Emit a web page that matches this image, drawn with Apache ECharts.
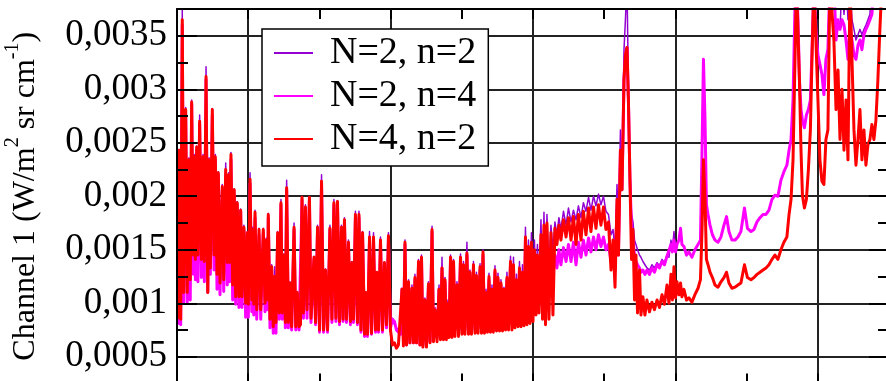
<!DOCTYPE html>
<html><head><meta charset="utf-8">
<script src="https://cdn.jsdelivr.net/npm/echarts@6/dist/echarts.min.js"></script>
<style>html,body{margin:0;padding:0;background:#fff}#c{width:886px;height:381px}</style>
</head><body><div id="c"></div>
<script>
// x positions (arbitrary spectral units, grid lines every 100)
const wavenumber = [
50.5,51.6,52.6,53.7,54.7,56.1,57.2,58.4,59.3,60.3,
61.4,62.1,62.9,63.8,64.7,65.9,67.1,68.3,69.2,70.4,
71.6,72.5,73.4,74.8,76.0,76.9,78.1,79.0,80.2,81.8,
82.8,84.2,85.3,86.3,87.0,87.9,89.1,90.2,91.2,92.3,
93.5,94.7,95.6,97.0,98.2,99.4,100.1,101.3,102.5,103.2,
103.9,104.8,106.0,107.6,108.8,110.6,111.8,112.7,113.7,114.1,
115.3,116.5,117.6,118.6,119.5,120.7,121.8,123.0,123.9,125.1,
126.1,127.0,128.2,129.3,130.5,132.2,133.4,134.5,135.7,136.7,
137.8,138.8,140.2,141.3,143.0,144.1,146.2,147.3,148.7,150.1,
151.5,152.9,154.3,155.7,157.4,158.8,160.2,161.6,162.7,164.1,
165.5,166.6,167.6,169.0,170.4,171.8,172.9,173.9,175.3,176.7,
177.8,179.2,180.3,181.7,182.7,183.8,185.2,186.6,188.0,189.4,
190.4,191.5,192.9,194.3,195.7,197.1,198.5,199.9,201.3,202.7,
204.1,205.5,206.9,208.0,209.0,210.1,211.2,212.6,213.6,215.0,
216.1,217.1,218.2,219.6,220.6,221.7,222.7,224.1,225.2,226.6,
227.7,229.1,230.1,231.2,232.6,234.0,235.0,236.1,237.1,238.2,
239.2,240.3,241.0,242.1,243.1,244.2,245.2,246.6,247.7,249.1,
250.1,251.2,252.2,253.6,254.7,255.7,256.8,258.2,259.3,260.3,
261.4,262.8,263.8,264.9,265.9,267.0,268.0,269.1,270.1,271.2,
272.2,273.3,274.4,275.4,276.5,277.5,278.6,279.6,280.7,281.7,
282.8,284.2,285.2,286.3,287.3,288.4,289.5,290.5,291.6,292.6,
293.7,294.7,295.8,296.8,297.9,298.9,300.0,301.0,302.1,303.1,
304.2,305.6,306.7,307.7,308.8,309.8,311.2,312.6,314.0,315.4,
316.8,318.2,319.6,321.4,323.2,324.9,326.7,328.4,330.2,331.9,
333.7,335.4,337.2,339.0,340.7,342.5,344.2,346.0,347.7,349.5,
351.2,353.0,354.8,356.2,357.6,359.0,360.0,361.4,362.5,363.9,
364.9,366.0,367.0,368.1,369.2,370.2,371.3,372.3,373.4,374.8,
375.8,377.2,378.6,380.0,381.8,383.5,385.3,387.1,388.8,390.6,
392.3,394.1,395.5,396.9,397.9,399.0,400.1,401.1,402.5,403.6,
404.6,406.0,407.8,409.5,411.6,413.7,415.9,417.6,418.7,419.7,
420.8,421.8,422.9,424.3,426.0,427.8,429.9,432.0,434.1,435.9,
437.6,439.7,441.8,443.9,446.0,448.5,450.6,453.1,455.2,457.3,
459.4,461.5,463.6,465.7,467.8,469.9,472.0,474.1,476.2,478.3,
479.8,481.2,482.6,484.0,485.0,486.1,487.1,488.2,489.2,490.6,
492.0,493.4,494.8,495.9,497.3,498.7,500.1,501.5,502.9,504.3,
505.7,507.1,508.5,509.9,511.3,512.8,514.2,515.6,517.0,518.4,
519.8,521.2,522.6,524.0,525.4,526.8,528.2,529.6,531.0,532.4,
533.8,535.2,536.6,538.0,539.4,540.8,542.2,543.6,545.1
];

// Channel 1 radiance, N=2, n=2 (W/m2 sr cm-1)
const radN2n2 = [
0.00085,0.00243,0.00085,0.00374,0.00110,0.00283,0.00110,0.00236,0.00122,0.00290,
0.00145,0.00239,0.00141,0.00247,0.00145,0.00276,0.00141,0.00239,0.00139,0.00321,
0.00110,0.00236,0.00133,0.00282,0.00145,0.00239,0.00127,0.00223,0.00119,0.00211,
0.00122,0.00231,0.00138,0.00222,0.00138,0.00241,0.00117,0.00207,0.00106,0.00195,
0.00106,0.00188,0.00106,0.00173,0.00100,0.00167,0.00099,0.00222,0.00103,0.00171,
0.00099,0.00187,0.00094,0.00170,0.00094,0.00170,0.00100,0.00161,0.00103,0.00184,
0.00085,0.00136,0.00078,0.00134,0.00082,0.00167,0.00091,0.00197,0.00091,0.00146,
0.00082,0.00215,0.00082,0.00120,0.00078,0.00175,0.00078,0.00111,0.00078,0.00080,
0.00200,0.00091,0.00192,0.00094,0.00200,0.00086,0.00144,0.00082,0.00173,0.00075,
0.00220,0.00075,0.00132,0.00075,0.00173,0.00085,0.00197,0.00086,0.00196,0.00083,
0.00173,0.00085,0.00180,0.00085,0.00159,0.00083,0.00139,0.00085,0.00186,0.00082,
0.00186,0.00075,0.00167,0.00071,0.00110,0.00071,0.00167,0.00072,0.00166,0.00075,
0.00129,0.00075,0.00162,0.00075,0.00138,0.00080,0.00166,0.00080,0.00086,0.00080,
0.00077,0.00075,0.00072,0.00114,0.00066,0.00159,0.00061,0.00122,0.00063,0.00117,
0.00063,0.00127,0.00063,0.00141,0.00061,0.00145,0.00061,0.00105,0.00061,0.00120,
0.00066,0.00172,0.00066,0.00096,0.00068,0.00117,0.00071,0.00143,0.00071,0.00124,
0.00071,0.00103,0.00071,0.00145,0.00073,0.00141,0.00075,0.00120,0.00075,0.00146,
0.00075,0.00139,0.00075,0.00157,0.00075,0.00131,0.00077,0.00139,0.00077,0.00129,
0.00079,0.00137,0.00079,0.00150,0.00079,0.00113,0.00080,0.00128,0.00080,0.00117,
0.00080,0.00135,0.00080,0.00128,0.00080,0.00122,0.00080,0.00115,0.00081,0.00129,
0.00081,0.00144,0.00083,0.00143,0.00085,0.00127,0.00086,0.00139,0.00086,0.00136,
0.00086,0.00171,0.00089,0.00159,0.00094,0.00166,0.00103,0.00159,0.00113,0.00155,
0.00122,0.00178,0.00113,0.00185,0.00117,0.00183,0.00131,0.00173,0.00150,0.00176,
0.00164,0.00180,0.00169,0.00186,0.00173,0.00189,0.00176,0.00187,0.00178,0.00191,
0.00180,0.00194,0.00186,0.00199,0.00187,0.00200,0.00191,0.00202,0.00192,0.00200,
0.00186,0.00183,0.00164,0.00169,0.00150,0.00211,0.00169,0.00262,0.00215,0.00337,
0.00365,0.00400,0.00300,0.00225,0.00183,0.00176,0.00159,0.00155,0.00150,0.00145,
0.00143,0.00139,0.00136,0.00133,0.00131,0.00136,0.00133,0.00138,0.00135,0.00141,
0.00138,0.00145,0.00143,0.00159,0.00150,0.00167,0.00150,0.00155,0.00159,0.00170,
0.00155,0.00153,0.00145,0.00148,0.00143,0.00150,0.00155,0.00159,0.00243,0.00328,
0.00271,0.00192,0.00183,0.00173,0.00164,0.00159,0.00157,0.00162,0.00173,0.00181,
0.00167,0.00159,0.00159,0.00162,0.00167,0.00189,0.00170,0.00167,0.00169,0.00176,
0.00180,0.00183,0.00183,0.00187,0.00197,0.00201,0.00200,0.00215,0.00223,0.00229,
0.00243,0.00253,0.00290,0.00379,0.00400,0.00365,0.00309,0.00281,0.00271,0.00264,
0.00276,0.00281,0.00290,0.00335,0.00400,0.00356,0.00332,0.00323,0.00314,0.00295,
0.00328,0.00337,0.00400,0.00400,0.00400,0.00346,0.00365,0.00356,0.00400,0.00370,
0.00400,0.00365,0.00400,0.00365,0.00356,0.00346,0.00351,0.00356,0.00351,0.00356,
0.00360,0.00365,0.00370,0.00400,0.00400,0.00400,0.00400,0.00400,0.00400
];

// Channel 1 radiance, N=2, n=4
const radN2n4 = [
0.00080,0.00243,0.00080,0.00360,0.00101,0.00276,0.00101,0.00229,0.00103,0.00286,
0.00127,0.00234,0.00122,0.00243,0.00120,0.00267,0.00124,0.00234,0.00120,0.00309,
0.00110,0.00229,0.00127,0.00276,0.00131,0.00234,0.00113,0.00220,0.00108,0.00206,
0.00111,0.00220,0.00117,0.00215,0.00120,0.00234,0.00103,0.00201,0.00099,0.00192,
0.00096,0.00186,0.00096,0.00169,0.00087,0.00164,0.00087,0.00212,0.00092,0.00167,
0.00089,0.00180,0.00085,0.00164,0.00085,0.00166,0.00092,0.00157,0.00094,0.00180,
0.00077,0.00131,0.00072,0.00122,0.00072,0.00163,0.00085,0.00192,0.00085,0.00143,
0.00077,0.00206,0.00077,0.00117,0.00075,0.00169,0.00075,0.00108,0.00075,0.00075,
0.00197,0.00086,0.00187,0.00086,0.00197,0.00082,0.00141,0.00080,0.00169,0.00073,
0.00211,0.00073,0.00129,0.00073,0.00169,0.00082,0.00192,0.00083,0.00192,0.00080,
0.00169,0.00083,0.00176,0.00082,0.00155,0.00080,0.00136,0.00082,0.00180,0.00080,
0.00180,0.00073,0.00164,0.00069,0.00108,0.00069,0.00159,0.00071,0.00159,0.00073,
0.00127,0.00073,0.00157,0.00073,0.00136,0.00077,0.00161,0.00077,0.00085,0.00083,
0.00075,0.00075,0.00071,0.00113,0.00066,0.00155,0.00061,0.00117,0.00063,0.00113,
0.00063,0.00122,0.00063,0.00136,0.00061,0.00141,0.00061,0.00103,0.00061,0.00117,
0.00064,0.00167,0.00066,0.00094,0.00068,0.00113,0.00071,0.00133,0.00071,0.00120,
0.00071,0.00099,0.00071,0.00141,0.00073,0.00136,0.00075,0.00117,0.00075,0.00141,
0.00075,0.00133,0.00075,0.00145,0.00075,0.00127,0.00075,0.00133,0.00075,0.00124,
0.00077,0.00131,0.00077,0.00145,0.00077,0.00108,0.00078,0.00122,0.00078,0.00113,
0.00078,0.00129,0.00078,0.00122,0.00078,0.00117,0.00078,0.00111,0.00079,0.00122,
0.00079,0.00136,0.00080,0.00133,0.00082,0.00120,0.00083,0.00131,0.00083,0.00127,
0.00085,0.00159,0.00086,0.00150,0.00089,0.00155,0.00096,0.00148,0.00103,0.00143,
0.00113,0.00150,0.00103,0.00155,0.00113,0.00145,0.00127,0.00145,0.00131,0.00145,
0.00133,0.00150,0.00136,0.00152,0.00139,0.00155,0.00139,0.00157,0.00136,0.00157,
0.00143,0.00159,0.00145,0.00161,0.00148,0.00162,0.00150,0.00164,0.00153,0.00162,
0.00150,0.00155,0.00139,0.00145,0.00131,0.00187,0.00145,0.00243,0.00206,0.00309,
0.00332,0.00339,0.00290,0.00215,0.00169,0.00159,0.00145,0.00139,0.00136,0.00133,
0.00129,0.00131,0.00127,0.00131,0.00127,0.00133,0.00129,0.00136,0.00133,0.00139,
0.00136,0.00144,0.00143,0.00155,0.00148,0.00159,0.00148,0.00155,0.00159,0.00170,
0.00155,0.00153,0.00145,0.00148,0.00143,0.00150,0.00155,0.00159,0.00243,0.00328,
0.00271,0.00192,0.00183,0.00173,0.00164,0.00159,0.00157,0.00162,0.00173,0.00181,
0.00167,0.00159,0.00159,0.00162,0.00167,0.00189,0.00170,0.00167,0.00169,0.00176,
0.00180,0.00183,0.00183,0.00187,0.00197,0.00201,0.00200,0.00215,0.00223,0.00229,
0.00243,0.00253,0.00290,0.00379,0.00400,0.00365,0.00309,0.00281,0.00271,0.00264,
0.00276,0.00281,0.00290,0.00335,0.00400,0.00356,0.00332,0.00323,0.00314,0.00295,
0.00328,0.00337,0.00400,0.00400,0.00400,0.00346,0.00365,0.00356,0.00365,0.00360,
0.00346,0.00328,0.00356,0.00346,0.00332,0.00328,0.00341,0.00346,0.00337,0.00351,
0.00356,0.00360,0.00365,0.00370,0.00400,0.00400,0.00400,0.00400,0.00400
];

// Channel 1 radiance, N=4, n=2
const radN4n2 = [
0.00085,0.00243,0.00085,0.00365,0.00110,0.00281,0.00110,0.00234,0.00122,0.00288,
0.00145,0.00237,0.00141,0.00246,0.00145,0.00270,0.00141,0.00237,0.00139,0.00312,
0.00110,0.00234,0.00133,0.00281,0.00145,0.00237,0.00127,0.00222,0.00119,0.00209,
0.00122,0.00225,0.00138,0.00220,0.00138,0.00239,0.00117,0.00206,0.00106,0.00194,
0.00106,0.00187,0.00106,0.00171,0.00100,0.00166,0.00099,0.00216,0.00103,0.00169,
0.00099,0.00185,0.00094,0.00169,0.00094,0.00169,0.00100,0.00159,0.00103,0.00183,
0.00085,0.00134,0.00078,0.00125,0.00082,0.00166,0.00091,0.00194,0.00091,0.00145,
0.00082,0.00208,0.00082,0.00119,0.00078,0.00171,0.00078,0.00110,0.00078,0.00080,
0.00199,0.00091,0.00190,0.00094,0.00199,0.00086,0.00143,0.00082,0.00171,0.00075,
0.00214,0.00075,0.00131,0.00075,0.00170,0.00085,0.00194,0.00086,0.00195,0.00083,
0.00171,0.00085,0.00178,0.00085,0.00157,0.00083,0.00138,0.00085,0.00183,0.00082,
0.00183,0.00075,0.00166,0.00071,0.00110,0.00071,0.00162,0.00072,0.00162,0.00075,
0.00129,0.00075,0.00159,0.00075,0.00138,0.00080,0.00163,0.00075,0.00061,0.00063,
0.00058,0.00061,0.00060,0.00113,0.00060,0.00157,0.00061,0.00120,0.00063,0.00114,
0.00063,0.00124,0.00063,0.00139,0.00061,0.00143,0.00059,0.00103,0.00059,0.00118,
0.00063,0.00169,0.00064,0.00094,0.00064,0.00113,0.00066,0.00133,0.00066,0.00122,
0.00066,0.00100,0.00068,0.00143,0.00068,0.00139,0.00069,0.00117,0.00069,0.00143,
0.00071,0.00136,0.00071,0.00147,0.00071,0.00129,0.00071,0.00136,0.00072,0.00126,
0.00072,0.00134,0.00072,0.00148,0.00072,0.00110,0.00073,0.00125,0.00073,0.00113,
0.00073,0.00131,0.00074,0.00124,0.00074,0.00119,0.00074,0.00113,0.00075,0.00124,
0.00075,0.00139,0.00075,0.00136,0.00077,0.00122,0.00078,0.00133,0.00078,0.00129,
0.00079,0.00162,0.00080,0.00153,0.00081,0.00157,0.00083,0.00150,0.00089,0.00145,
0.00091,0.00164,0.00085,0.00173,0.00080,0.00175,0.00085,0.00166,0.00089,0.00170,
0.00155,0.00173,0.00159,0.00178,0.00162,0.00180,0.00159,0.00181,0.00155,0.00183,
0.00159,0.00186,0.00164,0.00189,0.00167,0.00190,0.00170,0.00192,0.00173,0.00190,
0.00169,0.00176,0.00131,0.00159,0.00115,0.00197,0.00145,0.00243,0.00206,0.00309,
0.00332,0.00339,0.00290,0.00215,0.00141,0.00169,0.00103,0.00145,0.00091,0.00131,
0.00089,0.00106,0.00089,0.00103,0.00092,0.00101,0.00094,0.00103,0.00096,0.00108,
0.00099,0.00117,0.00100,0.00127,0.00103,0.00134,0.00105,0.00120,0.00108,0.00119,
0.00106,0.00113,0.00103,0.00105,0.00101,0.00108,0.00114,0.00122,0.00169,0.00234,
0.00197,0.00141,0.00136,0.00129,0.00124,0.00117,0.00115,0.00120,0.00124,0.00129,
0.00119,0.00114,0.00115,0.00117,0.00119,0.00136,0.00124,0.00122,0.00124,0.00127,
0.00129,0.00131,0.00133,0.00136,0.00141,0.00145,0.00141,0.00150,0.00157,0.00162,
0.00183,0.00197,0.00234,0.00328,0.00400,0.00400,0.00309,0.00243,0.00201,0.00189,
0.00197,0.00225,0.00262,0.00328,0.00400,0.00400,0.00290,0.00234,0.00214,0.00211,
0.00253,0.00262,0.00400,0.00400,0.00346,0.00281,0.00318,0.00253,0.00300,0.00243,
0.00290,0.00234,0.00400,0.00328,0.00262,0.00229,0.00253,0.00281,0.00234,0.00262,
0.00229,0.00248,0.00253,0.00267,0.00253,0.00271,0.00309,0.00356,0.00400
];

const seriesNames = ['N=2, n=2', 'N=2, n=4', 'N=4, n=2'];
const seriesColors = ['#9400D3', '#FF00FF', '#FF0000'];
const seriesWidths = [1.5, 3, 3];
const yAxisTitle = 'Channel 1 (W/m{sup|2} sr cm{sup|-1})';
const xRange = [50, 550];
const yRange = [0.00025, 0.00375];

const FONT = 'Liberation Serif';
const radiances = [radN2n2, radN2n4, radN4n2];

const series = radiances.map((vals, i) => ({
  name: seriesNames[i],
  type: 'line',
  xAxisIndex: 0,
  yAxisIndex: 0,
  data: wavenumber.map((x, j) => [x, vals[j]]),
  symbol: 'none',
  showSymbol: false,
  clip: true,
  z: 2 + i,
  lineStyle: { color: seriesColors[i], width: seriesWidths[i], join: 'round' },
  itemStyle: { color: seriesColors[i] },
  emphasis: { disabled: true }
}));

const frameLine = { show: true, lineStyle: { color: '#000', width: 2 } };
const gridLine = { show: true, lineStyle: { color: '#222', width: 2 } };
const fmt = v => v.toFixed(4).replace(/0+$/, '').replace('.', ',');

const chart = echarts.init(document.getElementById('c'), null, { renderer: 'canvas' });
chart.setOption({
  animation: false,
  backgroundColor: '#fff',
  grid: { left: 177, top: 9, right: -3, bottom: -2.5, containLabel: false, outerBoundsMode: 'none' },
  legend: {
    data: seriesNames,
    orient: 'vertical',
    left: 262, top: 29,
    padding: [5, 12, 8, 11],
    itemGap: 5,
    itemWidth: 39,
    itemHeight: 14,
    backgroundColor: '#fff',
    borderColor: '#000',
    borderWidth: 1.5,
    borderRadius: 0,
    selectedMode: false,
    z: 20,
    itemStyle: { opacity: 0 },
    textStyle: { fontFamily: FONT, fontSize: 38, color: '#000', lineHeight: 38, padding: [0, 0, 0, 12] }
  },
  xAxis: [
    {
      type: 'value', position: 'bottom', min: xRange[0], max: xRange[1], splitNumber: 5, z: 0,
      axisLine: frameLine,
      axisTick: { show: true, inside: true, length: 10, lineStyle: { color: '#000', width: 2 } },
      minorTick: { show: true, splitNumber: 2, length: 10, lineStyle: { color: '#000', width: 2 } },
      axisLabel: { show: false },
      splitLine: gridLine
    },
    {
      type: 'value', position: 'top', min: xRange[0], max: xRange[1], splitNumber: 5, z: 10,
      axisLine: frameLine,
      axisTick: { show: true, inside: true, length: 10, lineStyle: { color: '#000', width: 2 } },
      minorTick: { show: true, splitNumber: 2, length: 10, lineStyle: { color: '#000', width: 2 } },
      axisLabel: { show: false },
      splitLine: { show: false }
    }
  ],
  yAxis: [
    {
      type: 'value', position: 'left', min: yRange[0], max: yRange[1], splitNumber: 7, z: 0,
      axisLine: { show: false }, axisTick: { show: false }, axisLabel: { show: false },
      splitLine: gridLine
    },
    {
      type: 'value', position: 'left', min: yRange[0], max: yRange[1], splitNumber: 7, z: 10,
      axisLine: frameLine,
      axisTick: { show: true, inside: true, length: 20, lineStyle: { color: '#000', width: 2 } },
      minorTick: { show: true, splitNumber: 2, length: 11, lineStyle: { color: '#000', width: 2 } },
      axisLabel: {
        show: true, margin: 10, formatter: fmt, showMinLabel: false, showMaxLabel: false,
        fontFamily: FONT, fontSize: 37, color: '#000'
      },
      splitLine: { show: false },
      name: yAxisTitle,
      nameLocation: 'middle',
      nameRotate: 90,
      nameGap: 128,
      nameTextStyle: {
        fontFamily: FONT, fontSize: 32, color: '#000', lineHeight: 46,
        rich: { sup: { fontFamily: FONT, fontSize: 20, color: '#000', verticalAlign: 'top', lineHeight: 46 } }
      }
    },
    {
      type: 'value', position: 'right', min: yRange[0], max: yRange[1], splitNumber: 7, z: 10,
      axisLine: frameLine,
      axisTick: { show: true, inside: true, length: 20, lineStyle: { color: '#000', width: 2 } },
      minorTick: { show: true, splitNumber: 2, length: 11, lineStyle: { color: '#000', width: 2 } },
      axisLabel: { show: false },
      splitLine: { show: false }
    }
  ],
  series: series
});
</script>
</body></html>
